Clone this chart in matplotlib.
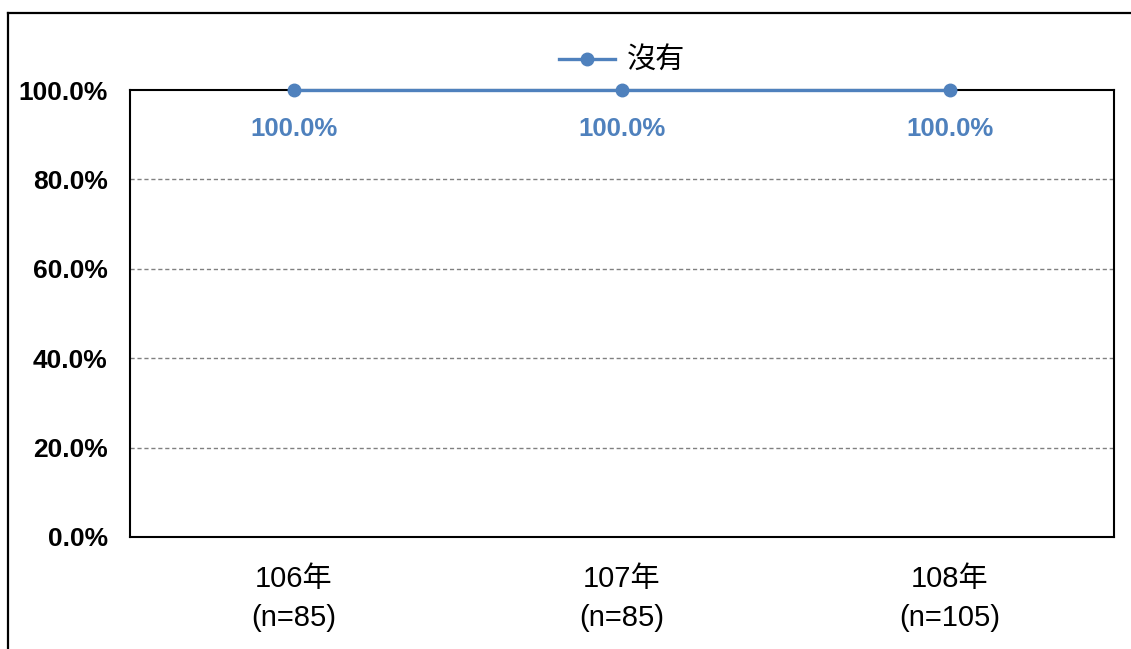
import matplotlib
matplotlib.use('Agg')
import matplotlib.pyplot as plt
from matplotlib.lines import Line2D

# data
categories = ['106年\n(n=85)', '107年\n(n=85)', '108年\n(n=105)']
values = [100.0, 100.0, 100.0]
series_name = '沒有'
yticks = [0, 20, 40, 60, 80, 100]

blue = '#4F81BD'
fam = ['Liberation Sans', 'Noto Sans CJK TC', 'DejaVu Sans']
plt.rcParams['font.family'] = fam

fig = plt.figure(figsize=(11.31, 6.49), dpi=100)
ax = fig.add_axes([130/1131, 1 - 537/649, (1114 - 130)/1131, (537 - 90)/649])

x = list(range(len(categories)))
ax.plot(x, values, color=blue, lw=2.4, marker='o', ms=9, label=series_name, zorder=5, clip_on=False)

for xi, v in zip(x, values):
    ax.annotate(f'{v:.1f}%', (xi, v), xytext=(0, -28), textcoords='offset points',
                ha='center', va='center', color=blue, fontsize=18.5, fontweight='bold')

ax.set_xlim(-0.5, len(categories) - 0.5)
ax.set_ylim(0, 100)
ax.set_yticks(yticks)
ax.set_yticklabels([f'{t:.1f}%' for t in yticks], fontsize=19, fontweight='bold')
ax.set_xticks(x)
ax.set_xticklabels(categories, fontsize=21, linespacing=1.5)
ax.tick_params(axis='both', length=0)
ax.tick_params(axis='y', pad=16)
ax.tick_params(axis='x', pad=20)

for t in yticks[1:-1]:
    ax.axhline(t, color='#808080', lw=1, ls=(0, (3, 2)), zorder=1)

for s in ax.spines.values():
    s.set_color('black')
    s.set_linewidth(1.5)

ax.legend(loc='center', bbox_to_anchor=(622/1131, 1 - 61/649), bbox_transform=fig.transFigure,
          frameon=False, fontsize=21, handlelength=1.9, handletextpad=0.4)

# outer frame (left and top edges visible)
fig.add_artist(Line2D([8/1131, 8/1131], [0, 1 - 13/649], transform=fig.transFigure, color='black', lw=1.6))
fig.add_artist(Line2D([8/1131, 1], [1 - 13/649, 1 - 13/649], transform=fig.transFigure, color='black', lw=1.6))

fig.savefig('out.png', dpi=100)
